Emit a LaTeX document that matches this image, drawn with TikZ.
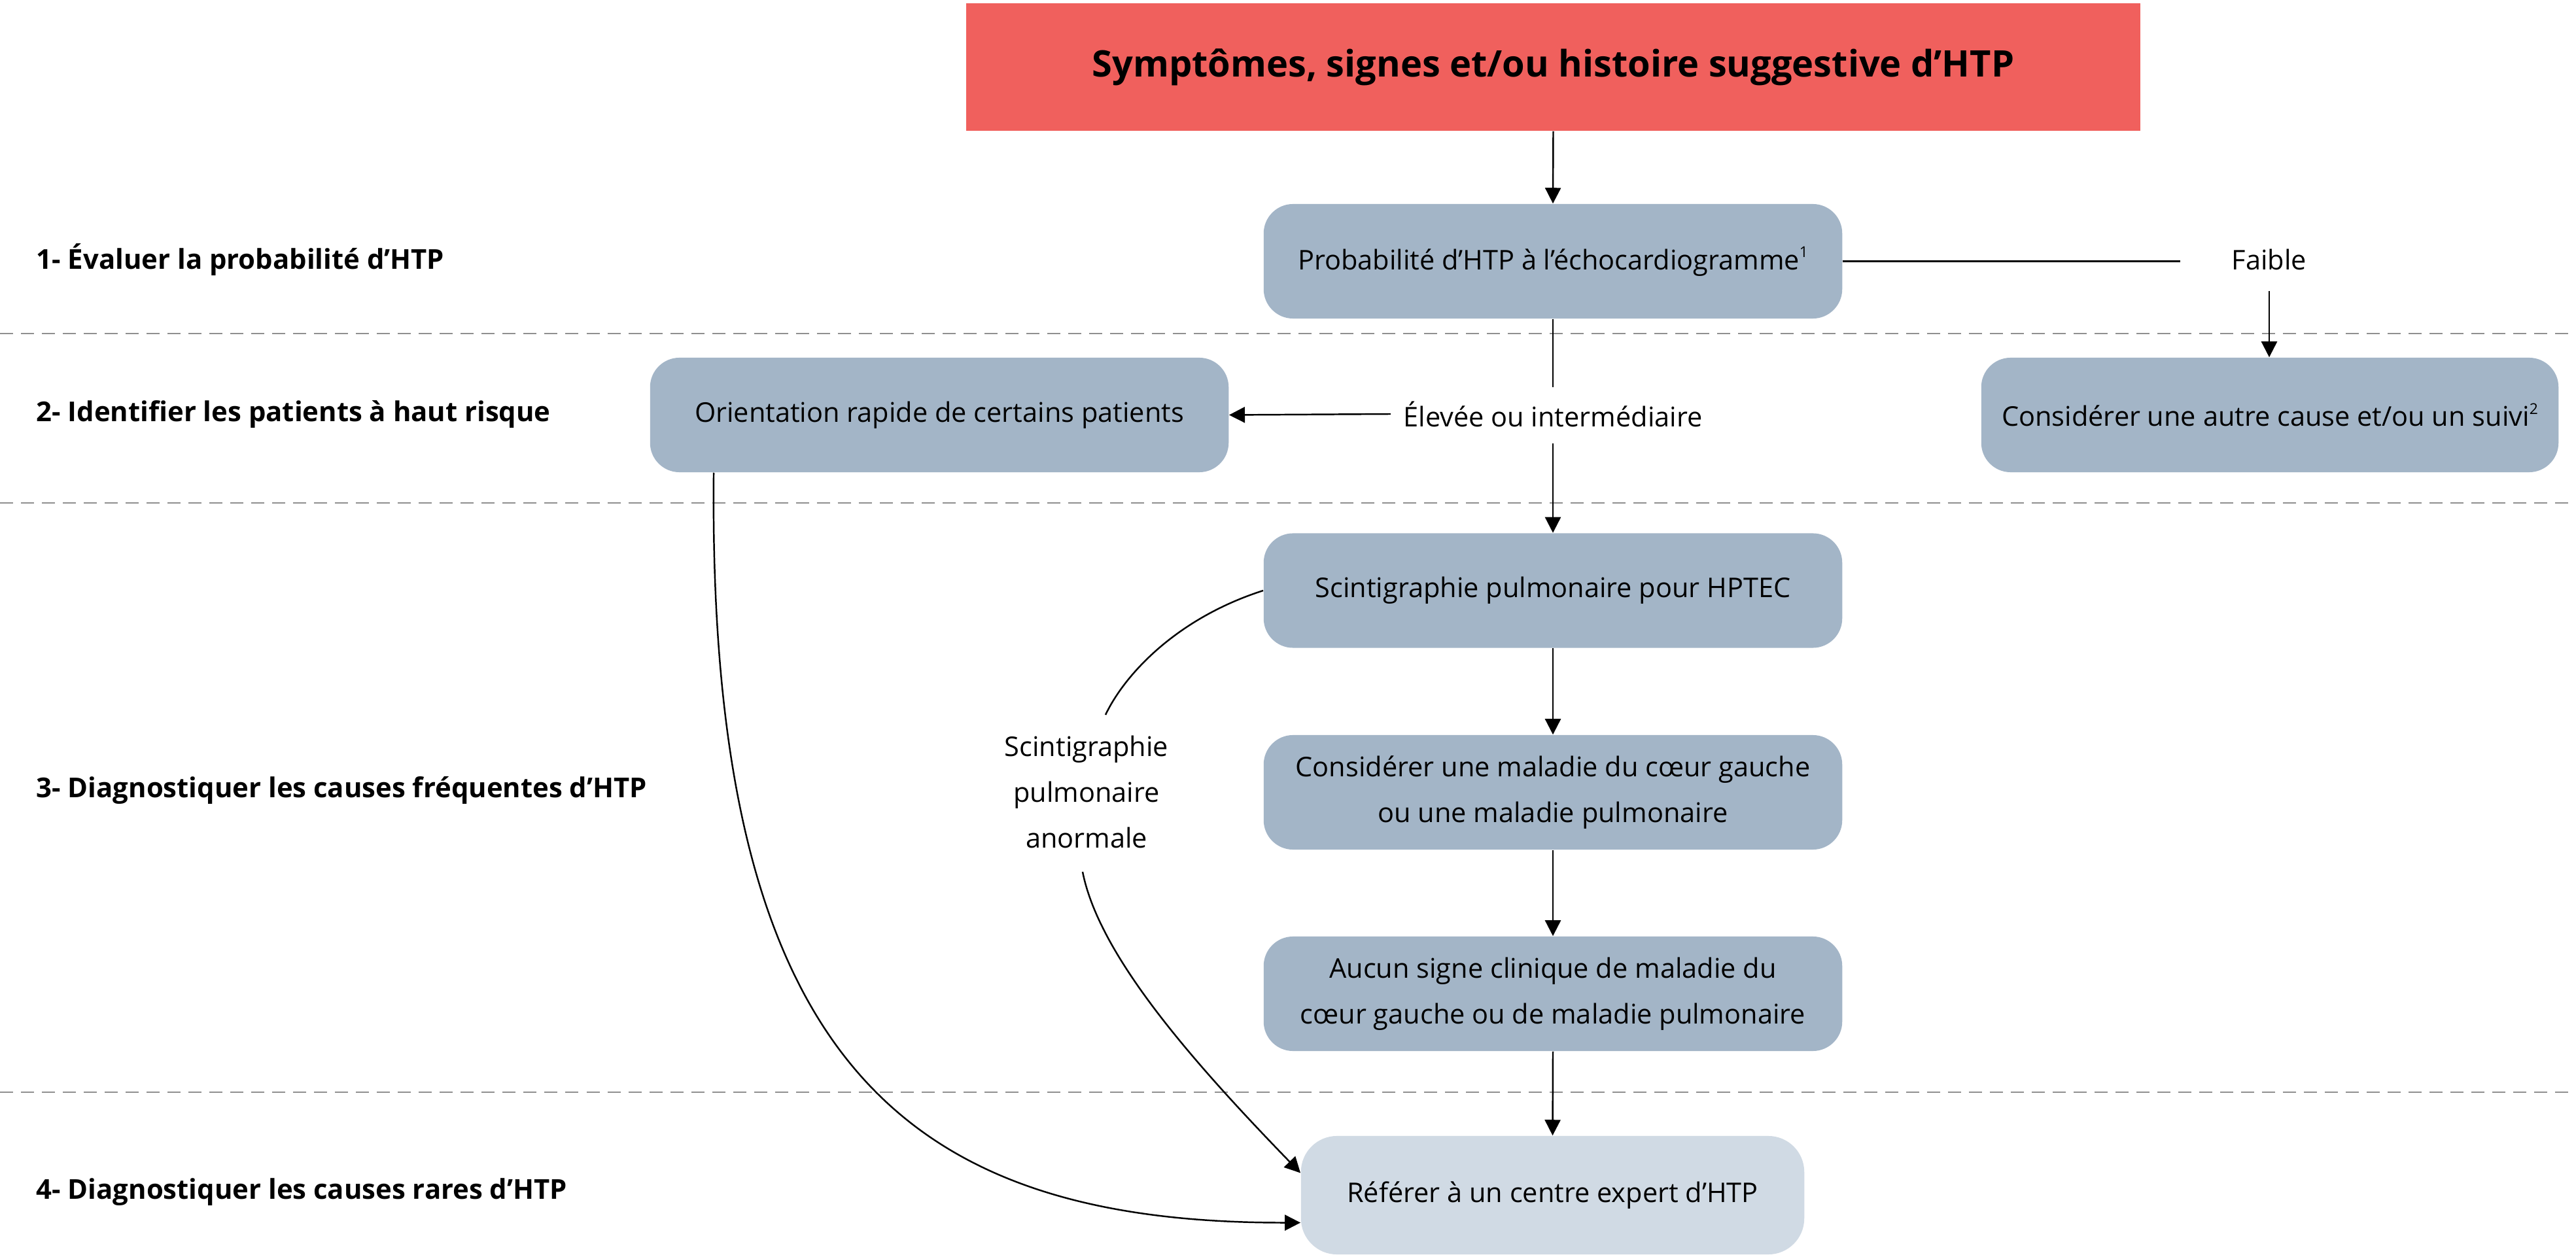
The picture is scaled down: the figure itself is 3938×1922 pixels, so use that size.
\documentclass[tikz,border=0pt]{standalone}
\usepackage{fontspec}
\setmainfont{Open Sans}
\usetikzlibrary{arrows.meta,calc}
\definecolor{titlered}{HTML}{F0605D}
\definecolor{boxblue}{HTML}{A3B5C7}
\definecolor{boxlight}{HTML}{D0DAE4}
\definecolor{dashgray}{HTML}{8F8F8F}
\newcommand\bxfont{\fontsize{11.8}{19.9}\selectfont}
\newcommand\supnum[1]{\raisebox{0.45em}{\fontsize{6.5}{6.5}\selectfont #1}}
\begin{document}
\begin{tikzpicture}[x=0.01cm,y=-0.01cm,
  stepbox/.style={fill=boxblue, rounded corners=0.45cm, minimum width=8.84cm,
    minimum height=1.75cm, align=center, font=\bxfont, inner sep=0pt},
  plain/.style={align=center, font=\bxfont},
  phase/.style={anchor=west, font=\fontsize{11.9}{14}\selectfont\bfseries, inner sep=0pt},
  arr/.style={line width=0.7pt, -{Triangle[length=0.24cm,width=0.24cm]}},
  conn/.style={line width=0.7pt},
  sep/.style={dashgray, line width=0.8pt, dash pattern=on 0.2cm off 0.12cm}]
\useasboundingbox[fill=white] (0,0) rectangle (3938,1922);

% section separators
\draw[sep] (0,510) -- (3938,510);
\draw[sep] (0,769) -- (3938,769);
\draw[sep] (0,1670) -- (3938,1670);

% phase labels
\node[phase] (p1) at (55,397) {1- Évaluer la probabilité d’HTP};
\node[phase] (p2) at (55,633) {2- Identifier les patients à haut risque};
\node[phase] (p3) at (55,1208) {3- Diagnostiquer les causes fréquentes d’HTP};
\node[phase] (p4) at (55,1823) {4- Diagnostiquer les causes rares d’HTP};

% nodes
\node[fill=titlered, minimum width=17.93cm, minimum height=1.95cm, inner sep=0pt,
  font=\fontsize{15.9}{19}\selectfont\bfseries] (title) at (2374.5,102.5)
  {Symptômes, signes et/ou histoire suggestive d’HTP};
\node[stepbox] (prob) at (2374,399.5) {Probabilité d’HTP à l’échocardiogramme\supnum{1}};
\node[plain] (faible) at (3469,397) {Faible};
\node[stepbox, minimum width=8.82cm] (autre) at (3470,634.5) {Considérer une autre cause et/ou un suivi\supnum{2}};
\node[plain, inner xsep=0.19cm] (elev) at (2374,633) {Élevée ou intermédiaire};
\node[stepbox] (orient) at (1436,634.5) {Orientation rapide de certains patients};
\node[stepbox] (scint) at (2374,903) {Scintigraphie pulmonaire pour HPTEC};
\node[stepbox] (coeur) at (2374,1211.5) {Considérer une maladie du cœur gauche\\ou une maladie pulmonaire};
\node[stepbox] (aucun) at (2374,1519.5) {Aucun signe clinique de maladie du\\cœur gauche ou de maladie pulmonaire};
\node[stepbox, fill=boxlight, minimum width=7.69cm, minimum height=1.81cm, rounded corners=0.55cm] (referer) at (2373.5,1827.5) {Référer à un centre expert d’HTP};
\node[plain] (scintlbl) at (1661,1211) {Scintigraphie\\pulmonaire\\anormale};

% connectors
\draw[arr] (title.south) -- (prob.north);
\draw[conn] (prob.east) -- ($(prob.east -| faible.west)+(-67,0)$);
\draw[arr] ($(faible.center)+(0,48)$) -- (faible.center |- autre.north);
\draw[conn] (prob.south) -- ($(elev.center)+(0,-41)$);
\draw[arr] (elev.west) -- (orient.east);
\draw[arr] ($(elev.center)+(0,45)$) -- (scint.north);
\draw[arr] (scint.south) -- (coeur.north);
\draw[arr] (coeur.south) -- (aucun.north);
\draw[arr] (aucun.south) -- (referer.north);
\draw[arr] ($(orient.south west)+(98,0)$) .. controls (1082,1620) and (1380,1870) .. ($(referer.west)+(0,42)$);
\draw[conn] (scint.west) .. controls (1800,945) and (1720,1030) .. ($(scintlbl.center)+(29,-118)$);
\draw[arr] ($(scintlbl.center)+(-6,122)$) .. controls (1680,1460) and (1820,1620) .. ($(referer.west)+(0,-34)$);
\end{tikzpicture}
\end{document}
